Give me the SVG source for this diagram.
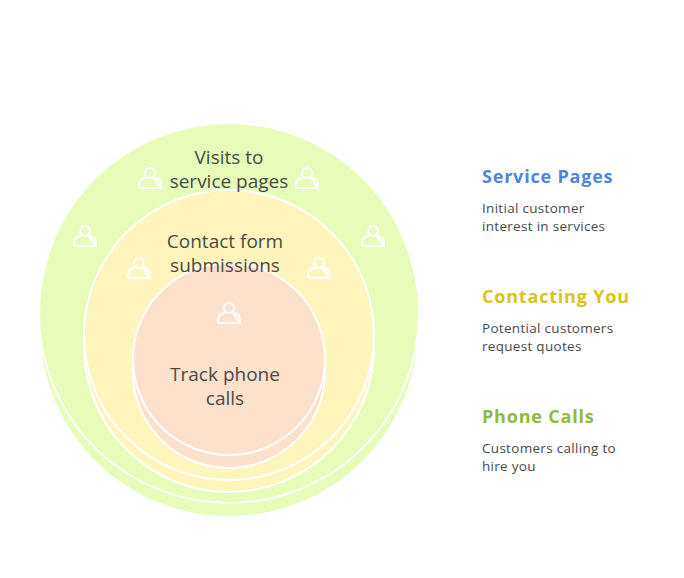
<svg xmlns="http://www.w3.org/2000/svg" width="684" height="578" viewBox="0 0 684 578">
<defs>
<style>
.lbl{font-family:"Open Sans","Liberation Sans",sans-serif;font-size:19px;fill:#4a4a4a;text-anchor:middle}
.h{font-family:"Open Sans","Liberation Sans",sans-serif;font-size:18px;font-weight:bold;letter-spacing:0.8px}
.d{font-family:"Open Sans","Liberation Sans",sans-serif;font-size:13.5px;fill:#4a4a4a;letter-spacing:0.3px}
.ring{stroke:#fff;stroke-width:2}
.ic{fill:none;stroke:#fff;stroke-width:2}
</style>
<g id="person"><circle cx="0" cy="-5" r="5" class="ic"/><path class="ic" d="M-11,10 L-11,6 Q-11,1 -4,0 M4,0 Q11,1 11,6 L11,10 Z M-11,10 L11,10"/></g>
</defs>
<rect width="684" height="578" fill="#fff"/>
<g id="outer">
<circle cx="229" cy="327" r="190" fill="#e6fcb8" class="ring"/>
<circle cx="229" cy="313" r="190" fill="#e6fcb8" class="ring"/>
</g>
<g id="middle">
<circle cx="229" cy="347" r="145" fill="#fdf5bb" class="ring"/>
<circle cx="229" cy="335" r="145" fill="#fdf5bb" class="ring"/>
</g>
<g id="inner">
<circle cx="229" cy="372" r="96" fill="#fde1cb" class="ring"/>
<circle cx="229" cy="359" r="96" fill="#fde1cb" class="ring"/>
</g>
<g id="icons">
<use href="#person" x="150" y="178"/>
<use href="#person" x="307" y="178"/>
<use href="#person" x="85" y="236"/>
<use href="#person" x="373" y="236"/>
<use href="#person" x="139" y="268"/>
<use href="#person" x="319" y="268"/>
<use href="#person" x="229" y="313"/>
</g>
<g id="labels">
<text class="lbl" x="229" y="164">Visits to</text>
<text class="lbl" x="229" y="188">service pages</text>
<text class="lbl" x="225" y="248">Contact form</text>
<text class="lbl" x="225" y="272">submissions</text>
<text class="lbl" x="225" y="381">Track phone</text>
<text class="lbl" x="225" y="405">calls</text>
</g>
<g id="legend">
<text class="h" x="482" y="183" fill="#4f86e0">Service Pages</text>
<text class="d" x="482" y="213">Initial customer</text>
<text class="d" x="482" y="231">interest in services</text>
<text class="h" x="482" y="303" fill="#d8c41a">Contacting You</text>
<text class="d" x="482" y="333">Potential customers</text>
<text class="d" x="482" y="351">request quotes</text>
<text class="h" x="482" y="423" fill="#8fbb3a">Phone Calls</text>
<text class="d" x="482" y="453">Customers calling to</text>
<text class="d" x="482" y="471">hire you</text>
</g>
</svg>
